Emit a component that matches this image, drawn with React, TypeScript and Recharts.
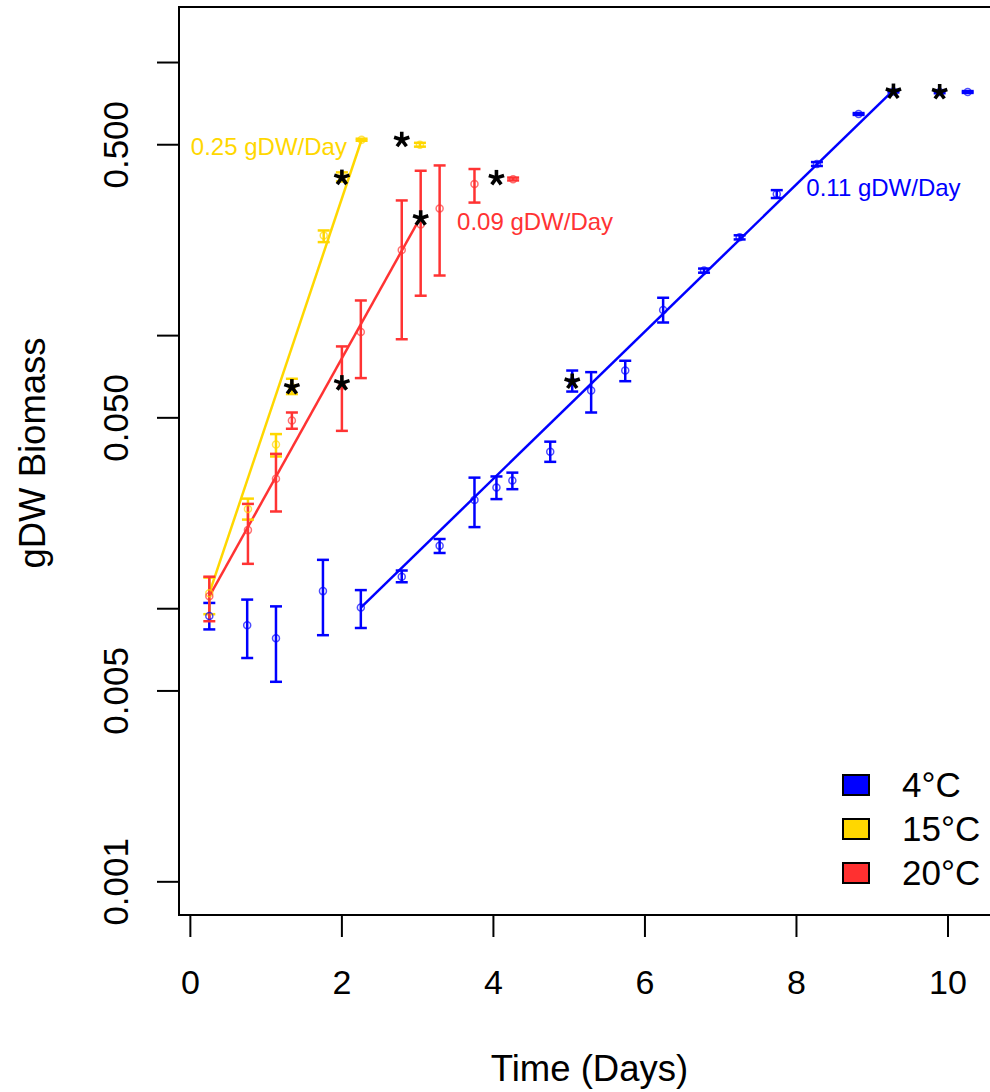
import {
  ComposedChart,
  Scatter,
  Line,
  ErrorBar,
  XAxis,
  YAxis,
  ReferenceArea,
  ReferenceDot,
  Legend,
} from "recharts";

const FONT = "'Liberation Sans', Arial, Helvetica, sans-serif";

const BLUE = "#0000ff";
const GOLD = "#ffd700";
const RED = "#ff3333";

// 4°C
const days4 = [0.25, 0.75, 1.13, 1.75, 2.25, 2.79, 3.29, 3.75, 4.04, 4.25, 4.75, 5.04, 5.29, 5.74, 6.24, 6.78, 7.25, 7.74, 8.27, 8.82, 9.28, 9.89, 10.26];
const mean4 = [0.0094, 0.0087, 0.0078, 0.0116, 0.0101, 0.0131, 0.017, 0.025, 0.0278, 0.0295, 0.0376, 0.0679, 0.0629, 0.0745, 0.124, 0.173, 0.229, 0.33, 0.425, 0.648, 0.783, 0.78, 0.78];
const lo4 = [0.0084, 0.0066, 0.0054, 0.008, 0.0085, 0.0125, 0.016, 0.0199, 0.0252, 0.0274, 0.0345, 0.0624, 0.0523, 0.0681, 0.1117, 0.17, 0.225, 0.319, 0.418, 0.643, 0.777, 0.772, 0.774];
const hi4 = [0.0105, 0.0108, 0.0102, 0.0151, 0.0117, 0.0138, 0.018, 0.0302, 0.0305, 0.0315, 0.0409, 0.0745, 0.0735, 0.0809, 0.1376, 0.176, 0.233, 0.341, 0.432, 0.653, 0.789, 0.788, 0.786];

// 15°C
const days15 = [0.25, 0.76, 1.13, 1.34, 1.76, 2.0, 2.26, 3.03];
const mean15 = [0.0114, 0.0232, 0.0399, 0.0648, 0.2327, 0.3794, 0.5215, 0.5];
const lo15 = [0.00955, 0.0212, 0.0361, 0.0611, 0.22, 0.3668, 0.517, 0.492];
const hi15 = [0.013, 0.0253, 0.0436, 0.0695, 0.2427, 0.396, 0.526, 0.508];

// 20°C
const days20 = [0.25, 0.76, 1.13, 1.34, 2.0, 2.25, 2.79, 3.04, 3.29, 3.75, 4.26];
const mean20 = [0.0111, 0.0194, 0.0299, 0.0489, 0.0655, 0.103, 0.206, 0.255, 0.292, 0.359, 0.374];
const lo20 = [0.009, 0.0146, 0.0227, 0.0456, 0.0448, 0.0699, 0.097, 0.14, 0.166, 0.307, 0.37];
const hi20 = [0.0131, 0.0242, 0.0369, 0.0523, 0.0913, 0.1345, 0.3126, 0.4015, 0.4199, 0.4074, 0.379];

// fitted growth lines (start / end)
const fit4Days = [2.25, 9.24];
const fit4Vals = [0.0101, 0.773];
const fit15Days = [0.25, 2.26];
const fit15Vals = [0.0114, 0.5215];
const fit20Days = [0.25, 3.04];
const fit20Vals = [0.0111, 0.2724];

// starred samples
const starDays = [1.34, 2.0, 2.0, 2.79, 3.04, 4.04, 5.04, 9.28, 9.89];
const starVals = [0.0648, 0.067, 0.379, 0.5215, 0.269, 0.378, 0.0679, 0.783, 0.78];

// rate annotations
const rateLabels = ["0.25 gDW/Day", "0.09 gDW/Day", "0.11 gDW/Day"];
const rateDays = [2.066, 3.52, 8.13];
const rateVals = [0.457, 0.2427, 0.325];
const rateAnchor = ["end", "start", "start"];
const rateColors = [GOLD, RED, BLUE];

const xTicks = [0, 2, 4, 6, 8, 10];
const yTicks = [0.001, 0.005, 0.01, 0.05, 0.1, 0.5, 1];
const yLabels: Record<string, string> = { "0.001": "0.001", "0.005": "0.005", "0.05": "0.050", "0.5": "0.500" };

const seriesNames = ["4°C", "15°C", "20°C"];
const seriesColors = [BLUE, GOLD, "#ff3030"];

const X_DOMAIN = [-0.15, 10.66];
const Y_DOMAIN = [0.000756, 1.597];

function build(days: number[], mean: number[], lo: number[], hi: number[]) {
  return days.map((d, i) => ({ x: d, y: mean[i], err: [mean[i] - lo[i], hi[i] - mean[i]] }));
}
function pairs(days: number[], vals: number[]) {
  return days.map((d, i) => ({ x: d, y: vals[i] }));
}

const data4 = build(days4, mean4, lo4, hi4);
const data15 = build(days15, mean15, lo15, hi15);
const data20 = build(days20, mean20, lo20, hi20);
const stars = pairs(starDays, starVals);

const openCircle = (color: string) => (p: any) =>
  <circle cx={p.cx} cy={p.cy} r={3.5} fill="none" stroke={color} strokeOpacity={0.7} strokeWidth={1.5} />;

function Star(p: any) {
  const arms = [0, 72, 144, 216, 288];
  return (
    <g>
      {arms.map((a) => {
        const r = (a - 90) * Math.PI / 180;
        return <line key={a} x1={p.cx} y1={p.cy} x2={p.cx + 8 * Math.cos(r)} y2={p.cy + 8 * Math.sin(r)} stroke="#000" strokeWidth={3.6} />;
      })}
    </g>
  );
}

function XTick(p: any) {
  return (
    <text x={p.x} y={p.y + 55} textAnchor="middle" fontSize={34} fontFamily={FONT} fill="#000">
      {p.payload.value}
    </text>
  );
}

function YTick(p: any) {
  const lab = yLabels[String(p.payload.value)];
  if (!lab) return null;
  const x = 128;
  return (
    <text x={x} y={p.y} transform={`rotate(-90 ${x} ${p.y})`} textAnchor="middle" fontSize={35} fontFamily={FONT} fill="#000">
      {lab}
    </text>
  );
}

function LegendBox() {
  return (
    <div style={{ fontFamily: FONT, fontSize: 35, color: "#000", lineHeight: "44px" }}>
      {seriesNames.map((n, i) => (
        <div key={n} style={{ display: "flex", alignItems: "center", height: 44 }}>
          <span style={{ display: "inline-block", width: 24, height: 18, border: "2px solid #000", background: seriesColors[i], marginRight: 32 }} />
          <span>{n}</span>
        </div>
      ))}
    </div>
  );
}

export default function App() {
  return (
    <div style={{ position: "absolute", left: 0, top: 0, width: 990, height: 1092, overflow: "hidden", background: "#fff" }}>
      <ComposedChart width={1040} height={1092} margin={{ top: 7, right: 42, bottom: 0, left: 0 }}>
        <XAxis
          dataKey="x"
          type="number"
          domain={X_DOMAIN}
          ticks={xTicks}
          allowDataOverflow
          axisLine={false}
          tickSize={22}
          tickLine={{ stroke: "#000", strokeWidth: 2 }}
          tick={<XTick />}
          height={177}
          label={{
            content: (p: any) => (
              <text x={p.viewBox.x + p.viewBox.width / 2 + 1} y={p.viewBox.y + 166} textAnchor="middle" fontSize={36.5} fontFamily={FONT} fill="#000">
                Time (Days)
              </text>
            ),
          }}
        />
        <YAxis
          dataKey="y"
          type="number"
          scale="log"
          domain={Y_DOMAIN}
          ticks={yTicks}
          allowDataOverflow
          axisLine={false}
          tickSize={22}
          tickLine={{ stroke: "#000", strokeWidth: 2 }}
          tick={<YTick />}
          width={179}
          label={{
            content: (p: any) => {
              const x = p.viewBox.x + 45;
              const y = p.viewBox.y + p.viewBox.height / 2 - 8;
              return (
                <text x={x} y={y} transform={`rotate(-90 ${x} ${y})`} textAnchor="middle" fontSize={36.5} fontFamily={FONT} fill="#000">
                  gDW Biomass
                </text>
              );
            },
          }}
        />
        <ReferenceArea x1={X_DOMAIN[0]} x2={X_DOMAIN[1]} y1={Y_DOMAIN[0]} y2={Y_DOMAIN[1]} fill="none" stroke="#000" strokeWidth={2} />

        <Line data={pairs(fit15Days, fit15Vals)} dataKey="y" stroke={GOLD} strokeWidth={2.5} dot={false} isAnimationActive={false} />
        <Line data={pairs(fit20Days, fit20Vals)} dataKey="y" stroke={RED} strokeWidth={2.5} dot={false} isAnimationActive={false} />
        <Line data={pairs(fit4Days, fit4Vals)} dataKey="y" stroke={BLUE} strokeWidth={2.5} dot={false} isAnimationActive={false} />

        <Scatter data={data4} shape={openCircle(BLUE)} isAnimationActive={false}>
          <ErrorBar dataKey="err" direction="y" width={6} stroke={BLUE} strokeWidth={2.5} />
        </Scatter>
        <Scatter data={data15} shape={openCircle(GOLD)} isAnimationActive={false}>
          <ErrorBar dataKey="err" direction="y" width={6} stroke={GOLD} strokeWidth={2.5} />
        </Scatter>
        <Scatter data={data20} shape={openCircle(RED)} isAnimationActive={false}>
          <ErrorBar dataKey="err" direction="y" width={6} stroke={RED} strokeWidth={2.5} />
        </Scatter>
        <Scatter data={stars} shape={Star} isAnimationActive={false} />

        {rateLabels.map((t, i) => (
          <ReferenceDot
            key={t}
            x={rateDays[i]}
            y={rateVals[i]}
            r={0}
            shape={(p: any) => (
              <text x={p.cx} y={p.cy} textAnchor={rateAnchor[i] as any} fontSize={24} fontFamily={FONT} fill={rateColors[i]}>
                {t}
              </text>
            )}
          />
        ))}

        <Legend layout="vertical" align="center" verticalAlign="middle" wrapperStyle={{ left: 842, top: 763, width: 148 }} content={() => <LegendBox />} />
      </ComposedChart>
    </div>
  );
}
